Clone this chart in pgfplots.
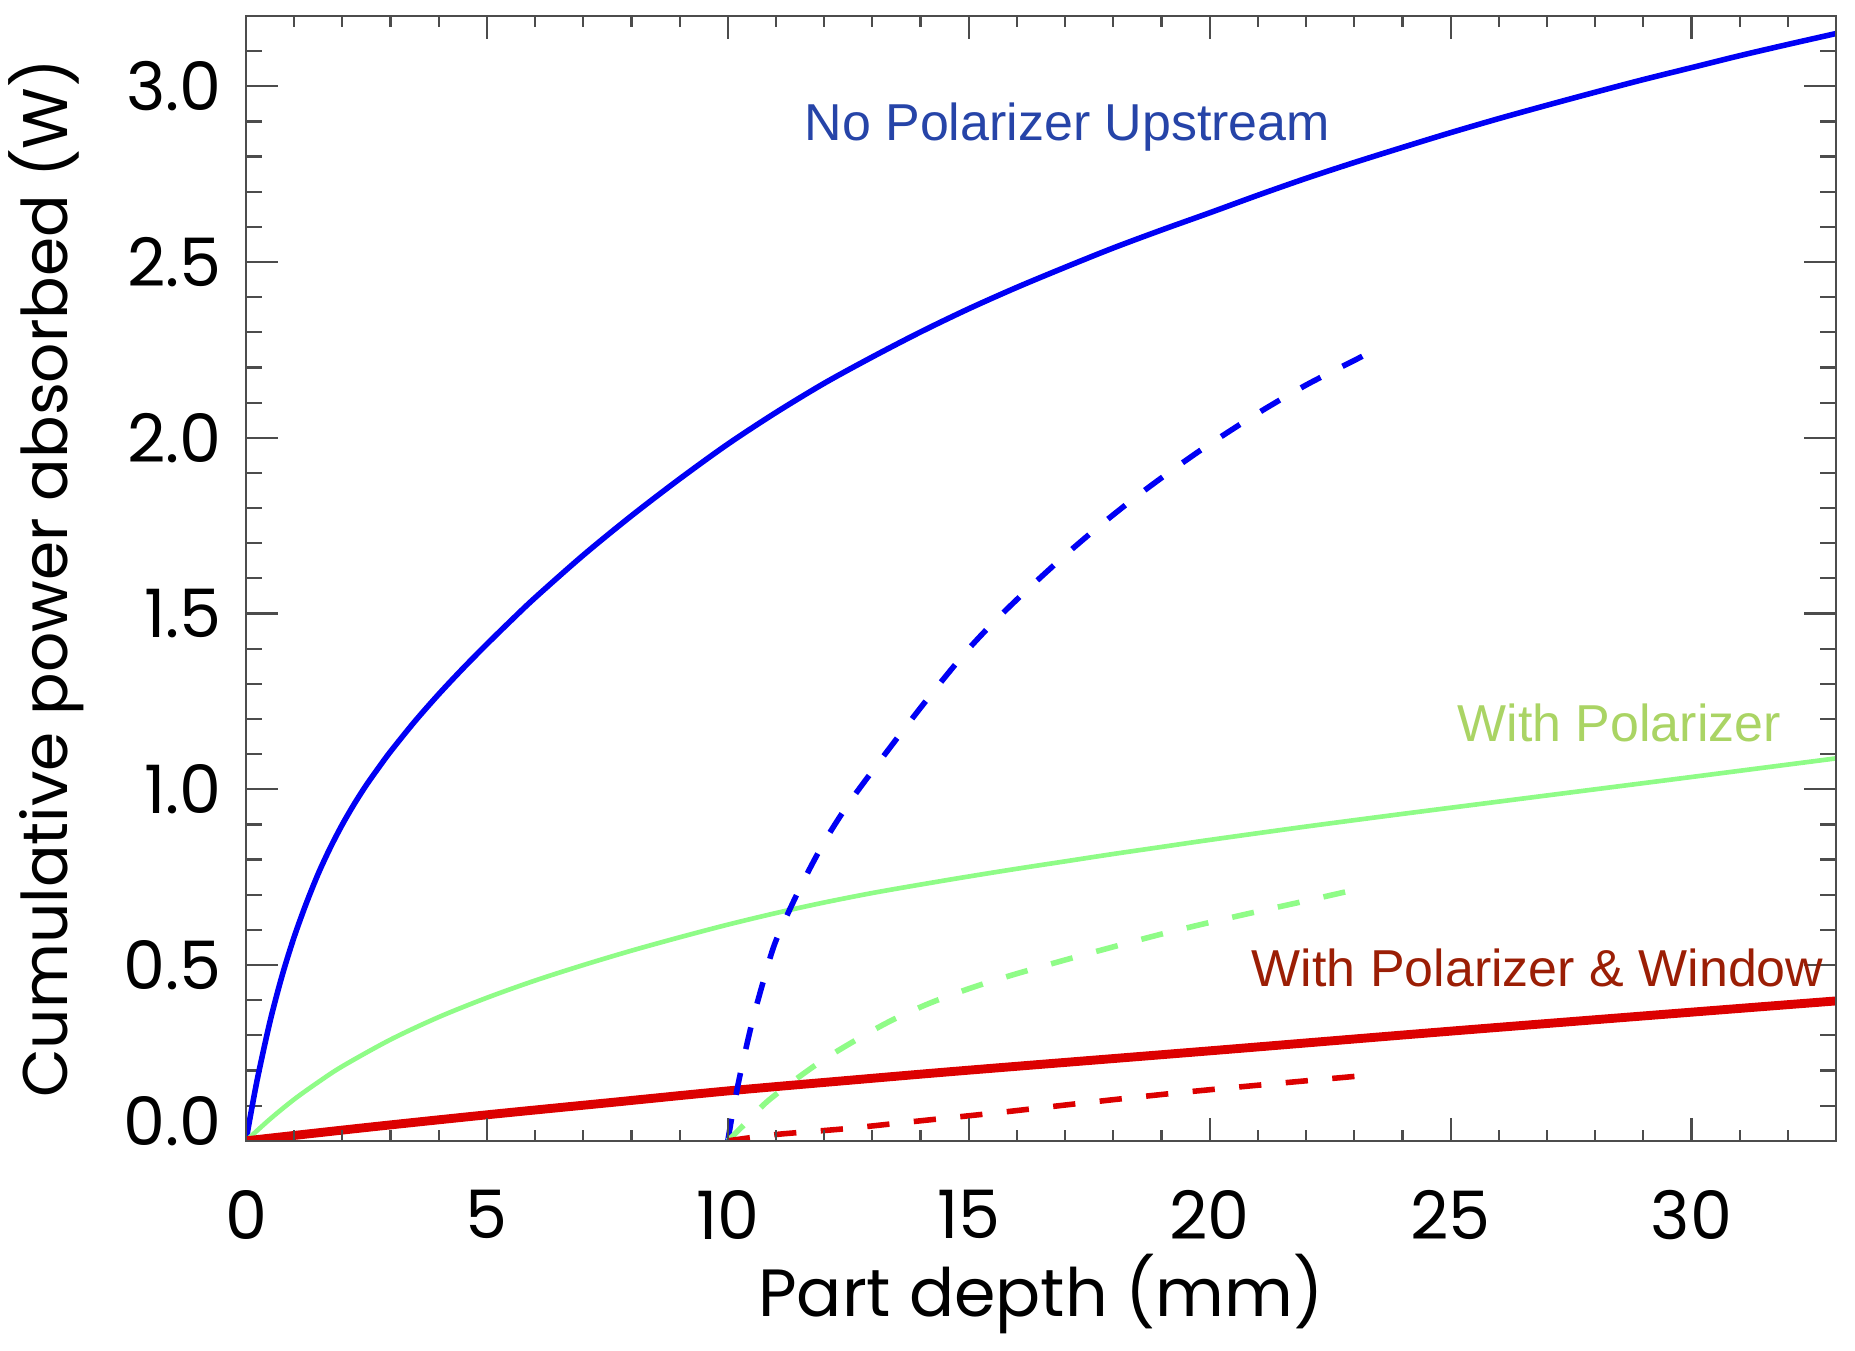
\documentclass[border=0pt]{standalone}
\usepackage{pgfplots}
\pgfplotsset{compat=1.18}
\usepackage{fontspec}
\newfontfamily\poppins{Poppins}
\newfontfamily\arialf{Liberation Sans}
\definecolor{blueline}{RGB}{0,0,245}
\definecolor{bluetext}{RGB}{38,68,168}
\definecolor{greenline}{RGB}{143,252,135}
\definecolor{greentext}{RGB}{170,212,100}
\definecolor{redline}{RGB}{220,0,0}
\definecolor{redtext}{RGB}{155,30,5}
\pgfplotstableread{
x y
0 0
0.1 0.077
0.25 0.185
0.5 0.34
0.75 0.47
1.0 0.58
1.25 0.675
1.5 0.76
1.75 0.834
2.0 0.90
2.25 0.959
2.5 1.0125
2.75 1.061
3.0 1.1075
3.5 1.1925
4.0 1.2705
4.5 1.3435
5.0 1.413
5.5 1.48
6.0 1.545
7 1.666
8 1.778
9 1.883
10 1.982
11 2.072
12 2.155
13 2.230
14 2.301
15 2.367
16 2.428
17 2.485
18 2.540
19 2.591
20 2.640
21 2.690
22 2.738
23 2.783
24 2.826
25 2.868
26 2.908
27 2.946
28 2.983
29 3.019
30 3.053
31 3.087
32 3.119
33 3.150
}\bluesolid
\pgfplotstableread{
x y
10 0
10.1 0.08
10.25 0.185
10.5 0.335
10.75 0.46
11.0 0.57
11.5 0.72
12.0 0.85
12.5 0.958
13.0 1.052
13.5 1.143
14.0 1.232
14.5 1.318
15.0 1.40
15.5 1.473
16.0 1.54
16.5 1.604
17.0 1.666
17.5 1.725
18.0 1.781
18.5 1.835
19.0 1.886
19.5 1.935
20.0 1.982
21.0 2.07
22.0 2.15
23.0 2.22
23.35 2.245
}\bluedash
\pgfplotstableread{
x y
0 0
0.5 0.062
1 0.118
1.5 0.167
2 0.212
3 0.288
4 0.352
5 0.407
6 0.456
7 0.50
8 0.541
9 0.579
10 0.615
11 0.648
12 0.678
13 0.705
14 0.729
15 0.752
16 0.774
17 0.795
18 0.816
19 0.836
20 0.856
22 0.894
24 0.93
26 0.965
28 1.00
30 1.035
33 1.088
}\greensolid
\pgfplotstableread{
x y
10 0
10.42 0.057
10.81 0.111
11.41 0.175
12.0 0.232
12.7 0.29
13.39 0.342
14.18 0.391
15.07 0.436
15.96 0.474
16.96 0.513
17.95 0.55
18.94 0.586
19.93 0.619
20.92 0.65
22.01 0.683
23.07 0.716
}\greendash
\pgfplotstableread{
x y
0 0
2.5 0.038
5 0.074
7.5 0.108
10 0.142
12.5 0.172
15 0.201
20 0.256
25 0.312
30 0.366
33 0.398
}\redsolid
\pgfplotstableread{
x y
10 0
11 0.018
12.4 0.034
14 0.057
15.6 0.080
17.4 0.108
19.3 0.136
21.3 0.162
23.15 0.185
}\reddash
\begin{document}
\begin{tikzpicture}
\pgfplotsset{
  common/.style={
    scale only axis, width=428.6pt, height=303.2pt,
    xmin=0, xmax=33, ymin=0, ymax=3.2,
    axis line style={black!70, line width=0.6pt},
    tick style={black!70, line width=0.6pt},
    tick align=inside,
    no markers,
  }
}
\begin{axis}[common, name=ax,
  xtick=\empty,
  ytick={0.5,1,1.5,2,2.5,3},
  minor ytick={0.1,0.2,0.3,0.4,0.6,0.7,0.8,0.9,1.1,1.2,1.3,1.4,1.6,1.7,1.8,1.9,2.1,2.2,2.3,2.4,2.6,2.7,2.8,2.9,3.1},
  extra y ticks={0},
  extra y tick style={yticklabel style={yshift=5.4pt}},
  major tick length=8.6pt, minor tick length=4.3pt,
  yticklabel style={font=\poppins\fontsize{18}{20}\selectfont, anchor=east, inner sep=0pt, xshift=-6.3pt,
    /pgf/number format/fixed, /pgf/number format/fixed zerofill, /pgf/number format/precision=1,
    /pgf/number format/assume math mode=true},
  ylabel={Cumulative power absorbed (W)},
  ylabel style={font=\poppins\fontsize{17}{20}\selectfont, at={(axis description cs:-0.112,0.5)}, anchor=base},
  dashpat/.style={dash pattern=on 6pt off 6.6pt, line width=1.5pt},
]
\addplot[blueline, line width=1.5pt, smooth, line join=round] table[x=x,y=y] {\bluesolid};
\addplot[greenline, line width=1.25pt, smooth, line join=round] table[x=x,y=y] {\greensolid};
\addplot[redline, line width=2.4pt, smooth, line join=round] table[x=x,y=y] {\redsolid};
\addplot[blueline, dashpat, smooth] table[x=x,y=y] {\bluedash};
\addplot[greenline, dashpat, smooth] table[x=x,y=y] {\greendash};
\addplot[redline, dashpat, smooth] table[x=x,y=y] {\reddash};
\node[anchor=base west, inner sep=0pt, text=bluetext, font=\arialf\fontsize{14}{16}\selectfont] at (axis cs:11.58,2.845) {No Polarizer Upstream};
\node[anchor=base west, inner sep=0pt, text=greentext, font=\arialf\fontsize{14}{16}\selectfont] at (axis cs:25.13,1.137) {With Polarizer};
\node[anchor=base west, inner sep=0pt, text=redtext, font=\arialf\fontsize{14}{16}\selectfont] at (axis cs:20.86,0.44) {With Polarizer \& Window};
\end{axis}
\begin{axis}[common,
  ytick=\empty,
  xtick={0,5,10,15,20,25,30},
  minor xtick={1,2,3,4,6,7,8,9,11,12,13,14,16,17,18,19,21,22,23,24,26,27,28,29,31,32,33},
  major tick length=6.1pt, minor tick length=3pt,
  xticklabel style={font=\poppins\fontsize{18}{20}\selectfont, anchor=north, inner sep=0pt, yshift=-13.2pt,
    /pgf/number format/assume math mode=true},
  xlabel={Part depth (mm)},
  xlabel style={font=\poppins\fontsize{18}{20}\selectfont, at={(axis description cs:0.5,-0.1562)}, anchor=base},
]
\end{axis}
\pgfresetboundingbox
\useasboundingbox ([xshift=-66.3pt,yshift=-56.6pt]ax.south west) rectangle ([xshift=5.1pt,yshift=4.3pt]ax.north east);
\end{tikzpicture}
\end{document}
